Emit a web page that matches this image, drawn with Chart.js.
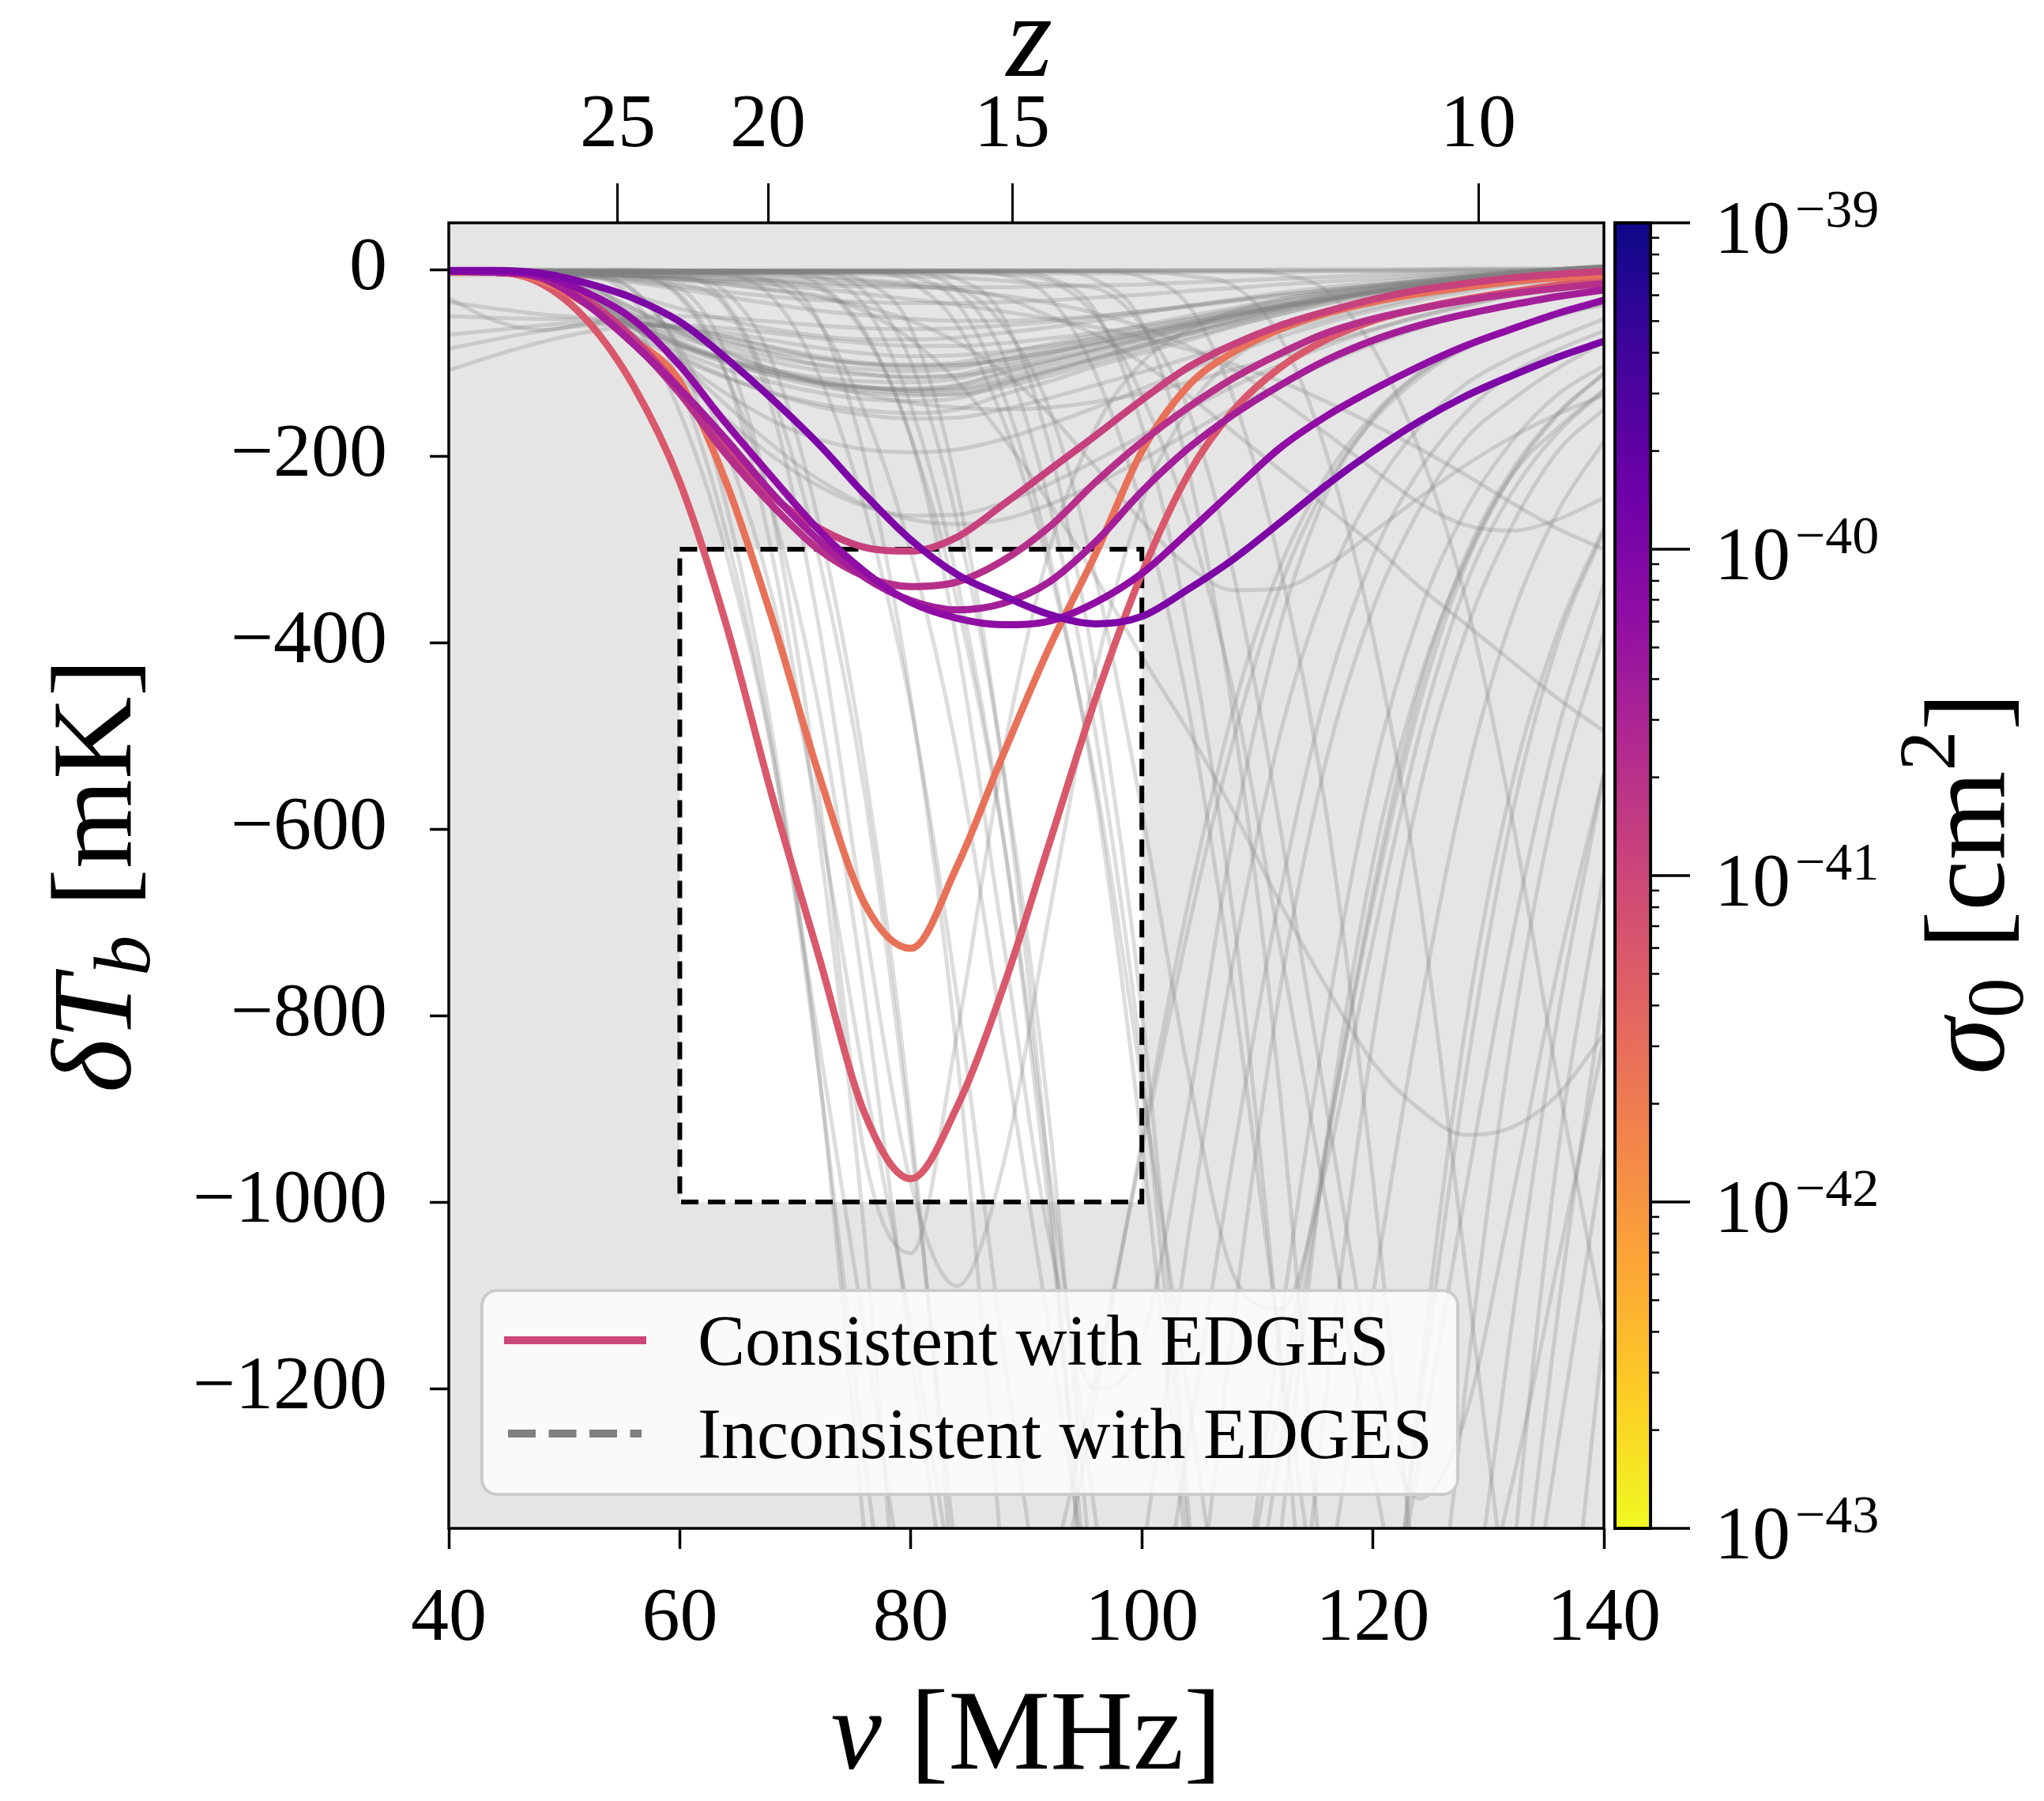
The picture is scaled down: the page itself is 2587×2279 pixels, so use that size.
<!DOCTYPE html>
<html>
<head>
<meta charset="utf-8">
<title>21-cm signal vs sigma0</title>
<script src="https://cdn.jsdelivr.net/npm/chart.js@4.4.1/dist/chart.umd.min.js"></script>
<style>
 html,body{margin:0;padding:0;background:#fff}
 canvas{display:block}
</style>
</head>
<body>
<canvas id="chart" width="2587" height="2279" style="width:2587px;height:2279px"></canvas>
<script>
/* ===== data ===== */
const freq = [40,44,48,52,56,60,64,68,72,76,80,84,88,92,96,100,104,108,112,116,120,124,128,132,136,140];

const xTicks = [40,60,80,100,120,140];
const yTicks = [0,-200,-400,-600,-800,-1000,-1200];
const zTicks = [25,20,15,10];
const cbDecades = [-43,-42,-41,-40,-39];

const edgesBoxFreq = [60,100];
const edgesBoxTemp = [-1000,-300];

/* consistent with EDGES (coloured by log10 sigma0) */
const edgesD  = [-1,-1,-4,-15,-31,-56,-95,-139,-187,-241,-290,-327,-350,-370,-380,-372,-343,-310,-271,-231,-195,-163,-136,-114,-94,-77];
const edgesM3 = [-2,-2,-6,-25,-54,-103,-165,-223,-279,-324,-357,-374,-381,-377,-357,-326,-282,-236,-191,-157,-129,-104,-82,-64,-47,-33];
const edgesM2 = [-2,-3,-9,-38,-80,-128,-182,-240,-290,-330,-355,-365,-358,-335,-292,-238,-192,-155,-124,-97,-76,-60,-48,-38,-29,-22];
const edgesM1 = [-2,-3,-9,-37,-79,-133,-198,-253,-300,-329,-340,-335,-312,-276,-228,-185,-148,-116,-90,-68,-53,-42,-33,-26,-20,-15];
const edgesP  = [-2,-3,-8,-33,-74,-128,-188,-243,-277,-298,-302,-287,-252,-215,-178,-140,-105,-80,-60,-45,-32,-22,-15,-9,-5,-2];
const edgesO  = [-3,-3,-12,-38,-75,-120,-228,-375,-540,-680,-728,-640,-520,-405,-305,-195,-125,-88,-64,-47,-35,-26,-19,-13,-9,-6];
const edgesR  = [-3,-3,-15,-55,-125,-228,-380,-565,-735,-905,-975,-898,-770,-615,-460,-326,-220,-150,-105,-75,-55,-42,-32,-24,-17,-11];
const edgesCurves = [edgesD,edgesM3,edgesM2,edgesM1,edgesP,edgesO,edgesR];
const edgesSigma  = [-40.0,-40.2,-40.44,-40.68,-40.92,-41.56,-41.24];

/* inconsistent with EDGES (grey) */
const grayFlat = [
 [-1,-1,-1,-1,-1,-1,-1,-1,-1,-1,-1,-1,-1,-1,-1,-1,-1,-1,-1,-1,-1,0,0,0,0,1],
 [0,0,0,0,0,-1,-1,-1,-1,-1,-1,-1,-1,-1,-1,-1,-1,-1,0,0,0,0,1,1,1,2],
 [-1,-1,-2,-2,-3,-3,-4,-4,-4,-4,-4,-4,-4,-4,-4,-4,-3,-3,-3,-2,-2,-2,-1,-1,0,1],
 [-1,-1,-2,-4,-7,-10,-13,-15,-17,-18,-19,-19,-19,-18,-17,-16,-14,-12,-10,-8,-6,-4,-3,-1,0,1],
 [-1,-1,-3,-7,-12,-18,-24,-29,-33,-35,-36,-36,-35,-33,-30,-27,-23,-20,-16,-13,-10,-7,-5,-3,-1,1],
 [-1,-1,-3,-8,-14,-21,-29,-37,-44,-49,-53,-55,-55,-53,-50,-45,-40,-34,-28,-22,-17,-12,-8,-4,-1,2],
 [-1,-2,-6,-15,-28,-42,-54,-64,-71,-75,-75,-73,-68,-62,-55,-47,-39,-32,-25,-19,-14,-9,-5,-2,0,2]
];
const grayBundle = [
 [-1,-2,-6,-24,-46,-64,-78,-88,-96,-101,-102,-100,-90,-80,-70,-60,-50,-41,-32,-24,-18,-12,-7,-3,0,2],
 [-1,-2,-7,-27,-52,-72,-87,-99,-108,-113,-115,-113,-101,-90,-78,-68,-57,-46,-36,-27,-20,-14,-8,-4,0,3],
 [-1,-2,-8,-30,-58,-80,-97,-110,-120,-126,-128,-125,-112,-100,-87,-75,-63,-51,-40,-30,-22,-15,-9,-4,0,3],
 [-1,-2,-6,-24,-52,-77,-96,-110,-121,-129,-133,-134,-126,-114,-100,-86,-73,-60,-48,-37,-27,-19,-12,-6,-1,3],
 [-1,-2,-9,-33,-64,-88,-107,-121,-132,-139,-141,-138,-123,-110,-96,-83,-69,-56,-44,-33,-24,-17,-10,-4,0,3],
 [-1,-2,-10,-36,-70,-96,-116,-132,-144,-151,-154,-150,-134,-120,-104,-90,-76,-61,-48,-36,-26,-18,-11,-5,0,4],
 [-1,-3,-12,-38,-63,-82,-96,-107,-116,-120,-121,-117,-105,-93,-81,-70,-59,-48,-38,-28,-21,-14,-8,-4,0,3],
 [-1,-2,-8,-30,-62,-92,-115,-133,-147,-156,-160,-159,-150,-138,-124,-110,-95,-80,-66,-53,-41,-30,-21,-13,-6,0],
 [-1,-1,-4,-18,-42,-68,-90,-107,-119,-126,-130,-129,-120,-108,-95,-82,-69,-57,-45,-34,-25,-17,-10,-5,0,3],
 [-1,-2,-7,-25,-49,-68,-82,-94,-102,-107,-109,-106,-95,-85,-74,-64,-54,-43,-34,-26,-19,-13,-8,-3,0,3],
 [-1,-2,-7,-28,-56,-79,-97,-111,-121,-127,-130,-128,-117,-104,-91,-78,-66,-54,-42,-32,-23,-16,-10,-5,-1,3],
 [-1,-2,-9,-32,-61,-83,-100,-113,-122,-127,-128,-124,-110,-98,-85,-73,-61,-50,-39,-29,-21,-14,-8,-4,0,3],
 [-1,-2,-8,-29,-57,-81,-99,-114,-125,-132,-135,-133,-122,-109,-95,-81,-68,-55,-43,-33,-24,-16,-10,-5,0,3]
];
const grayLow = [
 [-35,-42,-48,-52,-56,-62,-72,-84,-95,-102,-105,-103,-97,-88,-78,-68,-58,-48,-39,-31,-24,-17,-11,-6,-2,1],
 [-50,-52,-53,-54,-57,-64,-76,-90,-103,-112,-116,-114,-107,-97,-86,-74,-62,-51,-41,-32,-24,-17,-11,-6,-2,1],
 [-70,-65,-60,-57,-58,-63,-72,-83,-93,-100,-103,-102,-97,-89,-80,-70,-60,-50,-41,-33,-25,-18,-12,-7,-3,0],
 [-85,-75,-66,-60,-59,-62,-68,-76,-84,-90,-93,-92,-88,-82,-74,-66,-57,-48,-40,-32,-25,-18,-12,-7,-3,0],
 [-108,-92,-78,-67,-61,-60,-63,-68,-74,-79,-82,-82,-79,-74,-68,-61,-53,-45,-38,-31,-24,-18,-12,-7,-3,0],
 [-31,-55,-65,-58,-52,-50,-52,-56,-60,-63,-64,-63,-60,-56,-51,-45,-39,-33,-27,-22,-17,-12,-8,-4,-1,2]
];
const grayMid = [
 [-1,-2,-8,-30,-62,-98,-133,-162,-182,-193,-196,-193,-182,-166,-148,-128,-108,-89,-72,-57,-44,-33,-24,-16,-10,-5],
 [-1,-2,-8,-32,-70,-115,-160,-200,-232,-254,-264,-263,-250,-230,-205,-178,-150,-125,-102,-82,-65,-50,-38,-28,-19,-12],
 [-1,-2,-6,-25,-58,-100,-145,-188,-225,-252,-268,-273,-268,-252,-230,-204,-176,-148,-123,-100,-80,-63,-48,-36,-26,-18],
 [-1,-1,-5,-20,-42,-66,-88,-107,-122,-134,-143,-148,-150,-148,-142,-133,-121,-107,-93,-78,-64,-51,-39,-28,-18,-9],
 [-1,-1,-2,-4,-7,-11,-16,-22,-30,-40,-55,-78,-110,-155,-212,-270,-318,-344,-342,-318,-282,-245,-210,-180,-155,-135],
 [-1,-1,-1,-2,-3,-4,-6,-8,-10,-13,-17,-22,-28,-36,-47,-62,-82,-108,-140,-176,-214,-250,-274,-280,-268,-245],
 [-1,-1,-2,-4,-6,-8,-10,-12,-14,-16,-18,-22,-30,-50,-70,-100,-135,-175,-215,-255,-295,-340,-380,-420,-460,-495],
 [-1,-1,-2,-4,-7,-10,-13,-17,-21,-26,-32,-38,-45,-53,-62,-73,-86,-102,-120,-142,-166,-192,-220,-250,-278,-300]
];
const grayDeep = [
 [-1,-1,-2,-5,-10,-20,-90,-260,-560,-950,-1055,-820,-520,-300,-170,-100,-65,-45,-32,-24,-18,-13,-10,-7,-5,-4],
 [-1,-1,-2,-4,-8,-15,-40,-150,-380,-700,-980,-1090,-960,-690,-430,-250,-150,-95,-65,-47,-35,-27,-21,-16,-12,-9],
 [-1,-1,-1,-2,-3,-5,-8,-12,-20,-70,-180,-400,-720,-1040,-1200,-1150,-900,-600,-380,-240,-160,-112,-82,-62,-48,-38],
 [-1,-1,-1,-1,-2,-3,-4,-6,-8,-11,-15,-20,-60,-150,-330,-580,-860,-1080,-1115,-960,-720,-500,-340,-240,-175,-130],
 [-1,-1,-1,-1,-1,-2,-2,-3,-4,-5,-7,-9,-12,-16,-20,-60,-150,-330,-600,-900,-1180,-1318,-1230,-1000,-750,-540],
 [-1,-1,-2,-4,-7,-11,-16,-22,-28,-45,-75,-120,-180,-250,-330,-415,-495,-583,-680,-770,-850,-900,-928,-920,-885,-820],
 [-3,-3,-5,-14,-56,-153,-303,-519,-825,-1139,-1462,-1675,-1671,-1479,-1207,-935,-680,-468,-318,-221,-156,-111,-85,-65,-48,-34],
 [-4,-4,-7,-7,-33,-123,-282,-515,-858,-1276,-1659,-2077,-2200,-2053,-1738,-1386,-1038,-735,-497,-339,-238,-169,-123,-95,-73,-53],
 [-6,-6,-6,-8,-22,-92,-252,-498,-854,-1358,-1876,-2408,-2758,-2752,-2436,-1988,-1540,-1120,-770,-524,-364,-258,-182,-140,-106,-78],
 [-2,-4,-4,-6,-6,-30,-112,-256,-468,-780,-1160,-1508,-1888,-2000,-1866,-1580,-1260,-944,-668,-452,-308,-216,-154,-112,-86,-66],
 [-3,-3,-7,-7,-10,-27,-112,-306,-605,-1037,-1649,-2278,-2924,-3349,-3342,-2958,-2414,-1870,-1360,-935,-636,-442,-313,-221,-170,-129],
 [-2,-2,-5,-5,-7,-7,-36,-134,-307,-562,-936,-1392,-1810,-2266,-2400,-2239,-1896,-1512,-1133,-802,-542,-370,-259,-185,-134,-103],
 [-3,-3,-3,-6,-6,-9,-24,-99,-270,-534,-915,-1455,-2010,-2580,-2955,-2949,-2610,-2130,-1650,-1200,-825,-561,-390,-276,-195,-150],
 [-2,-2,-2,-4,-4,-6,-6,-30,-112,-256,-468,-780,-1160,-1508,-1888,-2000,-1866,-1580,-1260,-944,-668,-452,-308,-216,-154,-112],
 [-4,-4,-4,-4,-7,-7,-11,-11,-54,-202,-461,-842,-1404,-2088,-2714,-3398,-3600,-3359,-2844,-2268,-1699,-1202,-814,-554,-389,-277],
 [-3,-3,-3,-3,-3,-3,-3,-3,-8,-39,-146,-333,-608,-1014,-1508,-1960,-2454,-2600,-2426,-2054,-1638,-1227,-868,-588,-400,-281],
 [-4,-4,-4,-4,-4,-4,-4,-4,-4,-13,-63,-235,-538,-983,-1638,-2436,-3167,-3965,-4200,-3919,-3318,-2646,-1982,-1403,-949,-647],
 [-2,-2,-2,-2,-2,-2,-2,-2,-2,-2,-7,-36,-134,-307,-562,-936,-1392,-1810,-2266,-2400,-2239,-1896,-1512,-1133,-802,-542],
 [-3,-3,-3,-3,-3,-3,-3,-3,-3,-3,-3,-10,-51,-190,-435,-796,-1326,-1972,-2564,-3210,-3400,-3172,-2686,-2142,-1605,-1136],
 [-2,-2,-2,-2,-2,-2,-2,-2,-2,-2,-2,-2,-6,-30,-112,-256,-468,-780,-1160,-1508,-1888,-2000,-1866,-1580,-1260,-944],
 [-2,-2,-2,-2,-2,-2,-2,-2,-2,-2,-2,-2,-2,-9,-45,-168,-384,-702,-1170,-1740,-2262,-2832,-3000,-2799,-2370,-1890],
 [-2,-2,-2,-2,-2,-2,-2,-2,-2,-2,-2,-2,-2,-2,-11,-57,-213,-486,-889,-1482,-2204,-2865,-3587,-3800,-3545,-3002],
 [-3,-3,-5,-5,-23,-84,-192,-351,-585,-870,-1131,-1416,-1500,-1400,-1185,-945,-708,-501,-339,-231,-162,-116,-84,-65,-50,-36],
 [-2,-2,-2,-2,-3,-3,-5,-14,-56,-153,-303,-519,-825,-1139,-1462,-1675,-1671,-1479,-1207,-935,-680,-468,-318,-221,-156,-111],
 [-2,-2,-2,-2,-2,-2,-2,-2,-16,-66,-180,-356,-610,-970,-1340,-1720,-1970,-1966,-1740,-1420,-1100,-800,-550,-374,-260,-184],
 [-3,-3,-3,-3,-3,-3,-3,-3,-3,-24,-99,-270,-534,-915,-1455,-2010,-2580,-2955,-2949,-2610,-2130,-1650,-1200,-825,-561,-390],
 [-2,-2,-2,-2,-2,-2,-2,-2,-2,-2,-14,-59,-162,-320,-549,-873,-1206,-1548,-1773,-1769,-1566,-1278,-990,-720,-495,-337],
 [-3,-3,-3,-3,-3,-3,-3,-3,-3,-3,-3,-22,-92,-252,-498,-854,-1358,-1876,-2408,-2758,-2752,-2436,-1988,-1540,-1120,-770],
 [-2,-2,-2,-2,-2,-2,-2,-2,-2,-2,-2,-2,-2,-2,-2,-8,-38,-140,-320,-585,-975,-1450,-1885,-2360,-2500,-2333],
 [-2,-2,-2,-2,-2,-2,-2,-2,-2,-2,-2,-2,-2,-2,-2,-2,-7,-18,-73,-198,-392,-671,-1067,-1474,-1892,-2167],
 [-1,-1,-1,-1,-1,-1,-1,-1,-1,-1,-1,-1,-1,-1,-1,-1,-1,-1,-5,-23,-84,-192,-351,-585,-870,-1131],
 [-2,-2,-2,-2,-2,-2,-2,-2,-2,-2,-2,-2,-5,-12,-50,-135,-267,-458,-728,-1005,-1290,-1478,-1475,-1305,-1065,-825]
];
const grayCurves = [...grayFlat, ...grayBundle, ...grayLow, ...grayMid, ...grayDeep];

/* ===== style ===== */
const FONT = '"Liberation Serif","DejaVu Serif",serif';
const plasmaStops = ['#0d0887','#41049d','#6a00a8','#8f0da4','#b12a90','#cc4778','#e16462','#f2844b','#fca636','#fcce25','#f0f921'];

function hexRgb(h){return [1,3,5].map(i=>parseInt(h.slice(i,i+2),16));}
function plasma(t){
 t=Math.max(0,Math.min(1,t));
 const p=t*10, i=Math.min(9,Math.floor(p)), f=p-i;
 const a=hexRgb(plasmaStops[i]), b=hexRgb(plasmaStops[i+1]);
 return 'rgb('+a.map((v,k)=>Math.round(v+(b[k]-v)*f)).join(',')+')';
}
const sigmaColor = s => plasma((cbDecades[cbDecades.length-1]-s)/(cbDecades.length-1));

const toPts = vals => freq.map((f,i)=>({x:f,y:vals[i]}));

const edgesSets = edgesCurves.map((v,i)=>({
 data:toPts(v), borderColor:sigmaColor(edgesSigma[i]), borderWidth:9
}));
const graySets = grayCurves.map(v=>({
 data:toPts(v), borderColor:'rgba(128,128,128,0.27)', borderWidth:5
}));

/* ===== text helper ===== */
function drawRuns(ctx,runs,x,y,rot){
 ctx.save();
 ctx.translate(x,y);
 if(rot) ctx.rotate(rot);
 ctx.textAlign='left'; ctx.textBaseline='alphabetic'; ctx.fillStyle='#000';
 let w=0;
 runs.forEach(r=>{ctx.font=r.font; r.w=ctx.measureText(r.t).width; w+=r.w;});
 let cx=-w/2;
 runs.forEach(r=>{ctx.font=r.font; ctx.fillText(r.t,cx,r.dy||0); cx+=r.w;});
 ctx.restore();
}
const big = s => (s||'')+' 145px '+FONT;
const small = s => (s||'')+' 102px '+FONT;

/* ===== decorations ===== */
const decor = {
 id:'decor',
 beforeDraw(chart){
  const {ctx,chartArea:a,scales:{x,y}} = chart;
  ctx.save();
  ctx.fillStyle='#fff'; ctx.fillRect(0,0,chart.width,chart.height);
  ctx.fillStyle='#e5e5e5'; ctx.fillRect(a.left,a.top,a.right-a.left,a.bottom-a.top);
  const x0=x.getPixelForValue(edgesBoxFreq[0]), x1=x.getPixelForValue(edgesBoxFreq[1]);
  const y0=y.getPixelForValue(edgesBoxTemp[1]), y1=y.getPixelForValue(edgesBoxTemp[0]);
  ctx.fillStyle='#fff'; ctx.fillRect(x0,y0,x1-x0,y1-y0);
  ctx.restore();
 },
 afterDatasetDraw(chart,args){
  if(args.index!==edgesCurves.length) return;
  const {ctx,scales:{x,y}} = chart;
  const x0=x.getPixelForValue(edgesBoxFreq[0]), x1=x.getPixelForValue(edgesBoxFreq[1]);
  const y0=y.getPixelForValue(edgesBoxTemp[1]), y1=y.getPixelForValue(edgesBoxTemp[0]);
  ctx.save();
  ctx.setLineDash([22,12]); ctx.lineWidth=6; ctx.strokeStyle='#000';
  ctx.strokeRect(x0,y0,x1-x0,y1-y0);
  ctx.restore();
 },
 afterDraw(chart){
  const {ctx,chartArea:a} = chart;
  ctx.save();

  // frame
  ctx.strokeStyle='#000'; ctx.lineWidth=3.5;
  ctx.strokeRect(a.left,a.top,a.right-a.left,a.bottom-a.top);

  // legend
  const lx=a.left+42, ly=a.bottom-301, lw=1235, lh=258;
  ctx.beginPath(); ctx.roundRect(lx,ly,lw,lh,19);
  ctx.fillStyle='rgba(255,255,255,0.8)'; ctx.fill();
  ctx.lineWidth=4; ctx.strokeStyle='#cccccc'; ctx.stroke();
  ctx.lineWidth=10;
  ctx.strokeStyle=plasma(0.5);
  ctx.beginPath(); ctx.moveTo(lx+28,ly+63); ctx.lineTo(lx+208,ly+63); ctx.stroke();
  ctx.setLineDash([35,16.5]); ctx.strokeStyle='#808080';
  ctx.beginPath(); ctx.moveTo(lx+33,ly+181); ctx.lineTo(lx+202,ly+181); ctx.stroke();
  ctx.setLineDash([]);
  ctx.fillStyle='#000'; ctx.font='90px '+FONT; ctx.textAlign='left'; ctx.textBaseline='alphabetic';
  ctx.fillText('Consistent with EDGES',lx+273,ly+94);
  ctx.fillText('Inconsistent with EDGES',lx+273,ly+212);

  // axis titles
  drawRuns(ctx,[{t:'ν',font:big('italic')},{t:' [MHz]',font:big()}],(a.left+a.right)/2,2238);
  drawRuns(ctx,[{t:'δT',font:big('italic')},{t:'b',font:small('italic'),dy:24},{t:' [mK]',font:big()}],165,(a.top+a.bottom)/2,-Math.PI/2);
  drawRuns(ctx,[{t:'z',font:'italic 150px '+FONT}],1303,96);

  // colorbar
  const cbL=a.right+14, cbW=45, cbT=a.top, cbB=a.bottom, cbR=cbL+cbW;
  const g=ctx.createLinearGradient(0,cbT,0,cbB);
  plasmaStops.forEach((c,i)=>g.addColorStop(i/(plasmaStops.length-1),c));
  ctx.fillStyle=g; ctx.fillRect(cbL,cbT,cbW,cbB-cbT);
  ctx.lineWidth=4; ctx.strokeStyle='#000'; ctx.strokeRect(cbL,cbT,cbW,cbB-cbT);
  const dec=(cbB-cbT)/(cbDecades.length-1);
  cbDecades.forEach((d,i)=>{
   const yy=cbB-i*dec;
   ctx.lineWidth=3.5; ctx.beginPath(); ctx.moveTo(cbR,yy); ctx.lineTo(cbR+50,yy); ctx.stroke();
   if(i<cbDecades.length-1){
    ctx.lineWidth=2.5;
    for(let k=2;k<=9;k++){
     const ym=cbB-(i+Math.log10(k))*dec;
     ctx.beginPath(); ctx.moveTo(cbR,ym); ctx.lineTo(cbR+11,ym); ctx.stroke();
    }
   }
   ctx.fillStyle='#000'; ctx.textAlign='left'; ctx.textBaseline='alphabetic';
   ctx.font='96px '+FONT;
   ctx.fillText('10',cbR+81,yy+38);
   const w10=ctx.measureText('10').width;
   ctx.font='68px '+FONT;
   ctx.fillText('\u2212'+Math.abs(d),cbR+81+w10+6,yy+5);
  });
  drawRuns(ctx,[{t:'σ',font:big('italic')},{t:'0',font:small(),dy:24},{t:' [cm',font:big()},{t:'2',font:small(),dy:-62},{t:']',font:big()}],2536,(cbT+cbB)/2+10,-Math.PI/2);

  ctx.restore();
 }
};

/* ===== chart ===== */
const tickFont = {family:FONT,size:96};
const tickGrid = len => ({drawOnChartArea:false,drawTicks:true,tickLength:len,tickWidth:3.5,tickColor:'#000'});

new Chart(document.getElementById('chart'),{
 type:'line',
 data:{datasets:[...edgesSets,...graySets]},
 options:{
  responsive:false, animation:false, devicePixelRatio:1, events:[],
  layout:{padding:{left:0,top:0,right:557,bottom:0}},
  elements:{point:{radius:0,hoverRadius:0},line:{cubicInterpolationMode:'monotone',fill:false}},
  plugins:{legend:{display:false},tooltip:{enabled:false}},
  scales:{
   x:{type:'linear',position:'bottom',min:40,max:140,
    afterBuildTicks:s=>{s.ticks=xTicks.map(v=>({value:v}));},
    afterFit:s=>{s.height=345;},
    ticks:{font:tickFont,color:'#000',padding:32,autoSkip:false,maxRotation:0,minRotation:0,callback:v=>String(v)},
    grid:tickGrid(26),border:{display:false}},
   x2:{type:'linear',position:'top',min:40,max:140,
    afterBuildTicks:s=>{s.ticks=zTicks.map(z=>({value:1420.4/(1+z)}));},
    afterFit:s=>{s.height=282;},
    ticks:{font:tickFont,color:'#000',padding:15,autoSkip:false,maxRotation:0,minRotation:0,callback:(v,i)=>String(zTicks[i])},
    grid:{...tickGrid(50),tickWidth:3},border:{display:false}},
   y:{type:'linear',position:'left',min:-1350,max:50,
    afterBuildTicks:s=>{s.ticks=yTicks.map(v=>({value:v}));},
    afterFit:s=>{s.width=568;},
    ticks:{font:tickFont,color:'#000',padding:54,autoSkip:false,callback:v=>v<0?'\u2212'+(-v):String(v)},
    grid:tickGrid(24),border:{display:false}}
  }
 },
 plugins:[decor]
});
</script>
</body>
</html>
